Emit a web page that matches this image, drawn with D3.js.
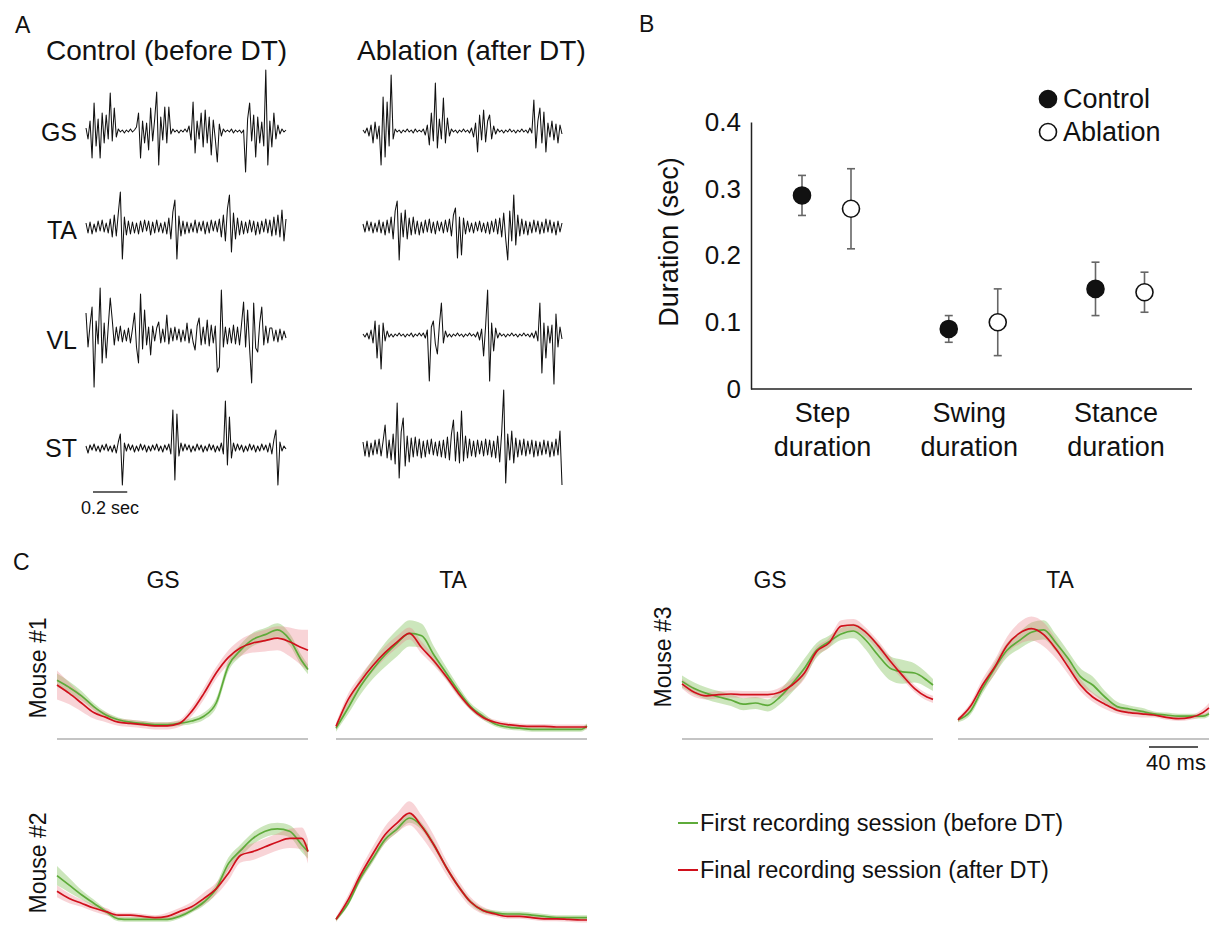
<!DOCTYPE html>
<html>
<head>
<meta charset="utf-8">
<script src="https://cdn.jsdelivr.net/npm/d3@7"></script>
<style>
  body { margin: 0; background: #fff; }
  text { font-family: "Liberation Sans", Arial, sans-serif; fill: #111; }
</style>
</head>
<body>
<div id="fig"></div>
<script>
// ---------- Panel A: raw EMG (100 samples per trace, ~11.8 ms apart, arbitrary units) ----------
const emgMuscles = ["GS", "TA", "VL", "ST"];
const emgSampleSec = 0.0118;

const gsControl = [
  3, -8, 10, -27, 28, -15, 12, -27, 18, -12, 16, -8, 38, -10, 23, -6,
  2, -1, 1, -2, 1, -1, 2, -1, 1,
  4, 18, -27, 10, -12, 8, -19, 23, -10, 12, 39, -34, 14, -9, 24, -12, 24,
  -3, 2, -1, 1, -2, 1, -1, 2, -1,
  5, -9, 29, -22, 10, -8, 18, -16, 21, -12, 14, -24, 11, -8, -31, 7, -5,
  2, -1, 1, -1, 2, -2, 1, -1, 1, -2, 1,
  -41, 12, 28, -10, 16, -26, 14, -12, 9, -15, 61, -34, 10, -16, 18, -8, 6,
  -3, 2, -1, 1
];
const gsAblation = [
  1, -2, 3, -5, 6, -12, 9, -8, 5, -34, 34, -26, 29, -15, 56,
  -8, 2, -1, 1, -2, 1, -1, 2, -1, 1, -2, 2, -1, 1, -1, 2,
  -4, 6, -14, 18, -10, 48, -17, 12, -8, 33, -12, 13, -5,
  2, -1, 1, -2, 1, -1, 2, -1, 1, -2, 3,
  -6, 8, -21, 16, -9, 21, -11, 10, 16, -8, 5, -3,
  2, -1, 1, -2, 1, -1, 2, -1, 1, -2, 1, -1, 2, -1, 1, -2, 3, -2,
  31, -17, 10, 23, -12, 19, -21, 8, -6, 10, -9, 7, -12, 6, -3
];
const taControl = [
  4, -6, 5, -7, 3, -5, 6, -4, 7, -5,
  4, -6, 8, -10, 12, -9, 14, 35, -32, 10,
  -8, 6, -7, 5, -6, 4, -7, 6, -5, 7,
  -4, 6, -8, 5, -6, 7, -5, 4, -6, 5,
  -7, 9, -12, 15, 27, -32, 11, -9, 6, -7,
  5, -6, 4, -5, 7, -6, 5, -4, 6, -7,
  5, -6, 7, -4, 6, -5, 8, -10, 12, -14,
  18, 32, -25, 14, -12, 9, -8, 6, -7, 5,
  -6, 7, -5, 6, -8, 5, -7, 6, -5, 8,
  -6, 7, -9, 10, -8, 12, -10, 17, -14, 8
];
const taAblation = [
  3, -5, 6, -4, 5, -6, 4, -5, 7, -6,
  5, -8, 7, -6, 10, -12, 16, 26, -33, 14,
  -10, 17, -12, 9, -8, 10, -7, 6, -8, 5,
  -6, 7, -5, 8, -6, 5, -7, 6, -4, 5,
  -6, 7, -5, 8, -9, 12, 19, -31, 10, -28,
  9, -7, 6, -5, 4, -6, 5, -4, 6, -5,
  4, -6, 5, -7, 6, -5, 8, -7, 9, -10,
  14, -12, -33, 16, -14, 32, -18, 12, -9, 8,
  -7, 6, -8, 5, -6, 7, -5, 6, -7, 5,
  -6, 8, -5, 7, -6, 5, -8, 6, -5, 4
];
const vlControl = [
  22, -12, 10, 28, -52, 14, -9, 47, -28, 12,
  -23, 8, 37, 15, -10, 8, -6, 9, -7, 5,
  -6, 7, -8, 6, 22, -12, -28, 41, -14, 25,
  -10, 8, -20, 9, -6, 7, 13, -8, 6, -7,
  20, -9, 7, -6, 8, -5, 6, -7, 5, -6,
  12, -8, 6, -7, -15, 9, 17, -10, 8, -9,
  15, -11, 10, -8, 9, -37, -32, 45, -12, 8,
  -9, 7, -8, 10, -9, 8, -10, 11, 33, -12,
  25, -14, -48, 32, -13, -17, 12, 28, -10, 9,
  -8, 7, 7, -6, 5, -7, 6, -5, 4, -3
];
const vlAblation = [
  1, -2, 2, -4, 5, -8, 14, -23, 10, -34,
  12, -6, 4, -2, 1, -2, 1, -1, 2, -1,
  1, -2, 1, -1, 2, -2, 1, -1, 2, -1,
  2, -3, 5, -46, 8, 14, -9, -19, 10, 32,
  -8, 4, -2, 1, -2, 1, -1, 2, -1, 1,
  -2, 1, -1, 2, -1, 1, -2, 3, -5, 6,
  -21, 9, 45, -46, 12, -16, 7, -3, 2, -1,
  1, -2, 1, -1, 2, -1, 1, -2, 1, -1,
  2, -1, 1, -2, 2, -3, 4, -6, 32, -38,
  12, -23, 9, -8, 10, -49, 21, -12, 8, -4
];
const stControl = [
  2, -5, 3, -2, 4, -3, 2, -4, 3, -2,
  4, -3, 2, -4, 3, -5, 6, 14, -37, 5,
  -3, 4, -2, 3, -4, 2, -3, 4, -2, 3,
  -4, 2, -3, 3, -2, 4, -3, 2, -4, 3,
  -2, 4, -6, 38, -32, 34, -8, 5, -3, 4,
  -2, 3, -4, 2, -3, 4, -2, 3, -4, 2,
  -3, 4, -2, 3, -4, 2, -3, 5, -6, 47,
  -17, 31, -10, 5, -3, 4, -2, 3, -4, 2,
  -3, 4, -2, 3, -4, 2, -3, 4, -2, 3,
  -4, 5, -6, 8, 18, -37, 6, -3, 2, -1
];
const stAblation = [
  6, -8, 7, -9, 5, -7, 8, -6, 9, -8,
  7, 23, -10, 8, -12, 14, -16, 45, -30, 16,
  30, -18, 12, -14, 10, -9, 11, -8, 9, -10,
  7, -9, 8, -6, 9, -7, 6, -8, 7, -9,
  8, -10, 11, -12, 14, 28, -13, 16, -15, 37,
  -13, 12, -10, 9, -8, 7, -9, 8, -6, 7,
  -8, 9, -7, 8, -9, 7, -10, 12, -14, 16,
  58, -35, 14, -12, 17, -15, 10, -9, 8, -7,
  9, -8, 7, -6, 8, -9, 7, -8, 6, -7,
  8, -6, 7, -9, 6, -8, 9, -7, 17, -37
];

// ---------- Panel B: gait phase durations (sec) ----------
const phaseNames = ["Step", "Swing", "Stance"];
const controlMean = [0.29, 0.09, 0.15];
const controlLow = [0.26, 0.07, 0.11];
const controlHigh = [0.32, 0.11, 0.19];
const ablationMean = [0.27, 0.10, 0.145];
const ablationLow = [0.21, 0.05, 0.115];
const ablationHigh = [0.33, 0.15, 0.175];
const durationTicks = [0, 0.1, 0.2, 0.3, 0.4];

// ---------- Panel C: averaged rectified EMG (normalised), time in ms ----------
const timeMs = [0, 10, 20, 30, 40, 50, 60, 70, 80, 90, 100, 110, 120, 130, 140, 150, 160, 170, 180, 190, 200, 205];

const gs1First = [.49, .43, .36, .27, .20, .16, .14, .13, .12, .12, .13, .15, .19, .30, .61, .74, .83, .87, .91, .83, .65, .58];
const gs1FirstSem = [.055, .05, .04, .03, .025, .02, .02, .02, .02, .02, .02, .025, .03, .04, .045, .05, .055, .055, .055, .05, .045, .04];
const gs1Final = [.45, .38, .30, .22, .18, .14, .13, .12, .11, .11, .13, .23, .38, .55, .68, .76, .80, .82, .84, .81, .76, .74];
const gs1FinalSem = [.12, .09, .07, .05, .04, .03, .03, .03, .03, .03, .03, .04, .05, .05, .06, .07, .08, .09, .10, .12, .15, .17];

const ta1First = [.09, .26, .44, .58, .70, .80, .88, .86, .70, .55, .40, .27, .19, .125, .10, .09, .08, .08, .08, .08, .08, .11];
const ta1FirstSem = [.03, .05, .07, .08, .10, .11, .11, .10, .07, .05, .04, .03, .03, .02, .02, .02, .02, .02, .02, .02, .02, .02];
const ta1Final = [.105, .33, .48, .61, .72, .81, .88, .76, .65, .52, .38, .26, .18, .14, .12, .11, .105, .105, .10, .10, .10, .10];
const ta1FinalSem = [.03, .05, .05, .05, .05, .05, .05, .05, .04, .03, .03, .02, .02, .02, .02, .02, .02, .02, .02, .02, .02, .02];

const gs3First = [.48, .42, .38, .35, .325, .29, .30, .28, .35, .46, .59, .74, .81, .875, .90, .825, .70, .59, .56, .55, .49, .45];
const gs3FirstSem = [.05, .05, .05, .05, .05, .05, .05, .05, .06, .07, .08, .06, .05, .05, .06, .08, .10, .10, .10, .08, .06, .05];
const gs3Final = [.46, .39, .36, .37, .375, .37, .37, .37, .39, .45, .55, .73, .80, .94, .95, .89, .78, .65, .53, .42, .35, .33];
const gs3FinalSem = [.04, .04, .03, .03, .03, .03, .03, .03, .04, .05, .05, .04, .04, .05, .05, .04, .04, .04, .03, .03, .03, .03];

const ta3First = [.16, .23, .42, .59, .74, .82, .89, .91, .80, .67, .52, .45, .35, .27, .25, .23, .21, .20, .19, .19, .19, .21];
const ta3FirstSem = [.02, .03, .04, .05, .06, .07, .08, .08, .07, .06, .07, .07, .05, .04, .03, .03, .02, .02, .02, .02, .02, .02];
const ta3Final = [.16, .27, .45, .60, .78, .88, .92, .87, .75, .60, .45, .35, .29, .24, .22, .21, .20, .18, .17, .18, .22, .26];
const ta3FinalSem = [.02, .03, .05, .06, .07, .09, .10, .10, .08, .06, .05, .04, .04, .03, .03, .03, .02, .02, .02, .02, .03, .04];

const gs2First = [.47, .39, .31, .24, .17, .11, .105, .105, .105, .105, .13, .18, .25, .36, .57, .68, .78, .84, .86, .84, .725, .67];
const gs2FirstSem = [.08, .06, .04, .03, .02, .02, .02, .02, .02, .02, .02, .02, .03, .04, .05, .05, .05, .05, .05, .05, .06, .06];
const gs2Final = [.34, .28, .24, .20, .17, .14, .14, .13, .12, .13, .17, .21, .28, .36, .49, .64, .67, .71, .75, .78, .78, .67];
const gs2FinalSem = [.05, .04, .03, .03, .03, .02, .02, .02, .02, .03, .03, .04, .05, .05, .06, .06, .07, .07, .07, .08, .09, .10];

const ta2First = [.105, .24, .45, .61, .77, .86, .95, .88, .725, .54, .38, .25, .18, .16, .15, .15, .14, .13, .12, .12, .12, .12];
const ta2FirstSem = [.02, .02, .03, .03, .03, .03, .04, .03, .03, .02, .02, .02, .02, .02, .02, .02, .02, .02, .02, .02, .02, .02];
const ta2Final = [.105, .27, .475, .65, .81, .91, .99, .88, .725, .54, .38, .25, .18, .15, .13, .13, .12, .11, .11, .105, .10, .10];
const ta2FinalSem = [.02, .04, .05, .06, .07, .08, .10, .09, .08, .06, .05, .04, .03, .02, .02, .02, .02, .02, .02, .02, .02, .02];

// ---------- Setup ----------
const W = 1212, H = 928;
const svg = d3.select("#fig").append("svg")
  .attr("width", W)
  .attr("height", H)
  .attr("viewBox", `0 0 ${W} ${H}`);

const panelLetter = (txt, x, y) => svg.append("text")
  .attr("x", x).attr("y", y)
  .attr("font-size", 23)
  .text(txt);

// ===== Panel A =====
panelLetter("A", 15, 33);

svg.append("text").attr("x", 46).attr("y", 60).attr("font-size", 28).text("Control (before DT)");
svg.append("text").attr("x", 357).attr("y", 60).attr("font-size", 28).text("Ablation (after DT)");

const emgRowsData = [
  { name: "GS", base: 131, label: 132, control: gsControl, ablation: gsAblation },
  { name: "TA", base: 227, label: 230, control: taControl, ablation: taAblation },
  { name: "VL", base: 335, label: 340, control: vlControl, ablation: vlAblation },
  { name: "ST", base: 448, label: 448, control: stControl, ablation: stAblation }
];

const emgDur = (gsControl.length - 1) * emgSampleSec;
const xCtrl = d3.scaleLinear().domain([0, emgDur]).range([86, 286]);
const xAbl = d3.scaleLinear().domain([0, emgDur]).range([363, 562]);

emgRowsData.forEach(row => {
  const y = d3.scaleLinear().domain([-60, 60]).range([row.base + 60, row.base - 60]);

  svg.append("text")
    .attr("x", 77).attr("y", row.label + 9)
    .attr("text-anchor", "end")
    .attr("font-size", 25)
    .text(row.name);

  [[row.control, xCtrl], [row.ablation, xAbl]].forEach(([vals, x]) => {
    const line = d3.line()
      .x((d, i) => x(i * emgSampleSec))
      .y(d => y(d));
    svg.append("path")
      .datum(vals)
      .attr("d", line)
      .attr("fill", "none")
      .attr("stroke", "#111")
      .attr("stroke-width", 1.05)
      .attr("stroke-linejoin", "round");
  });
});

// scale bar 0.2 sec
svg.append("line")
  .attr("x1", xCtrl(0) + 7).attr("x2", xCtrl(0.2) + 7)
  .attr("y1", 492).attr("y2", 492)
  .attr("stroke", "#333").attr("stroke-width", 1.3);
svg.append("text")
  .attr("x", 110).attr("y", 514)
  .attr("text-anchor", "middle")
  .attr("font-size", 18)
  .text("0.2 sec");

// ===== Panel B =====
panelLetter("B", 639, 32);

const yDur = d3.scaleLinear().domain([0, 0.4]).range([389, 122]);
const xPhase = d3.scalePoint().domain(phaseNames).range([826.5, 1120]);
const offset = 24.5;

svg.append("g")
  .attr("transform", "translate(751,0)")
  .call(d3.axisLeft(yDur).tickValues(durationTicks).tickSize(0).tickPadding(10)
    .tickFormat(d => d === 0 ? "0" : d3.format(".1f")(d)))
  .call(g => g.select(".domain").attr("stroke", "#222").attr("stroke-width", 1.5))
  .call(g => g.selectAll("text").attr("font-size", 26).attr("fill", "#111")
    .style("font-family", "'Liberation Sans', Arial, sans-serif"));

svg.append("line")
  .attr("x1", 751).attr("x2", 1192)
  .attr("y1", yDur(0)).attr("y2", yDur(0))
  .attr("stroke", "#222").attr("stroke-width", 1.5);

svg.append("text")
  .attr("transform", `translate(669,242) rotate(-90)`)
  .attr("text-anchor", "middle")
  .attr("dominant-baseline", "central")
  .attr("font-size", 27)
  .text("Duration (sec)");

phaseNames.forEach(p => {
  const t = svg.append("text")
    .attr("text-anchor", "middle")
    .attr("font-size", 27);
  t.append("tspan").attr("x", xPhase(p) - 4).attr("y", 422).text(p);
  t.append("tspan").attr("x", xPhase(p) - 4).attr("y", 456).text("duration");
});

const groupsB = [
  { mean: controlMean, lo: controlLow, hi: controlHigh, dx: -offset, fill: "#111" },
  { mean: ablationMean, lo: ablationLow, hi: ablationHigh, dx: offset, fill: "#fff" }
];

groupsB.forEach(g => {
  phaseNames.forEach((p, i) => {
    const cx = xPhase(p) + g.dx;
    svg.append("line")
      .attr("x1", cx).attr("x2", cx)
      .attr("y1", yDur(g.lo[i])).attr("y2", yDur(g.hi[i]))
      .attr("stroke", "#666").attr("stroke-width", 1.6);
    [g.lo[i], g.hi[i]].forEach(v => {
      svg.append("line")
        .attr("x1", cx - 4).attr("x2", cx + 4)
        .attr("y1", yDur(v)).attr("y2", yDur(v))
        .attr("stroke", "#666").attr("stroke-width", 1.6);
    });
    svg.append("circle")
      .attr("cx", cx).attr("cy", yDur(g.mean[i]))
      .attr("r", 8.5)
      .attr("fill", g.fill)
      .attr("stroke", "#111").attr("stroke-width", 1.6);
  });
});

// legend B
[["Control", "#111", 99], ["Ablation", "#fff", 132]].forEach(([name, fill, y]) => {
  svg.append("circle").attr("cx", 1048).attr("cy", y).attr("r", 8.5)
    .attr("fill", fill).attr("stroke", "#111").attr("stroke-width", 1.6);
  svg.append("text").attr("x", 1063).attr("y", y + 9).attr("font-size", 27).text(name);
});

// ===== Panel C =====
panelLetter("C", 13, 570);

const greenLine = "#5eab3a", redLine = "#d0101c";
const greenBand = "rgba(120,190,80,0.38)", redBand = "rgba(232,120,130,0.32)";

const cPanels = [
  { x0: 57, base: 739, first: gs1First, firstSem: gs1FirstSem, fin: gs1Final, finSem: gs1FinalSem, title: "GS", titleX: 163 },
  { x0: 336, base: 739, first: ta1First, firstSem: ta1FirstSem, fin: ta1Final, finSem: ta1FinalSem, title: "TA", titleX: 453 },
  { x0: 682, base: 739, first: gs3First, firstSem: gs3FirstSem, fin: gs3Final, finSem: gs3FinalSem, title: "GS", titleX: 770 },
  { x0: 958, base: 739, first: ta3First, firstSem: ta3FirstSem, fin: ta3Final, finSem: ta3FinalSem, title: "TA", titleX: 1060 },
  { x0: 57, base: 932, first: gs2First, firstSem: gs2FirstSem, fin: gs2Final, finSem: gs2FinalSem },
  { x0: 336, base: 932, first: ta2First, firstSem: ta2FirstSem, fin: ta2Final, finSem: ta2FinalSem }
];

const panelW = 251;
let lastX = null;

cPanels.forEach(pn => {
  const x = d3.scaleLinear().domain([0, 205]).range([pn.x0, pn.x0 + panelW]);
  const y = d3.scaleLinear().domain([0, 1]).range([pn.base, pn.base - 120]);
  lastX = pn.title === "TA" && pn.x0 > 900 ? x : lastX;

  svg.append("line")
    .attr("x1", pn.x0).attr("x2", pn.x0 + panelW)
    .attr("y1", pn.base).attr("y2", pn.base)
    .attr("stroke", "#c4c4c4").attr("stroke-width", 2);

  const band = (m, s) => d3.area()
    .x((d, i) => x(timeMs[i]))
    .y0((d, i) => y(m[i] - s[i]))
    .y1((d, i) => y(m[i] + s[i]))
    .curve(d3.curveMonotoneX)(m);
  const trace = m => d3.line()
    .x((d, i) => x(timeMs[i]))
    .y(d => y(d))
    .curve(d3.curveMonotoneX)(m);

  svg.append("path").attr("d", band(pn.first, pn.firstSem)).attr("fill", greenBand);
  svg.append("path").attr("d", band(pn.fin, pn.finSem)).attr("fill", redBand);
  svg.append("path").attr("d", trace(pn.first)).attr("fill", "none")
    .attr("stroke", greenLine).attr("stroke-width", 1.7);
  svg.append("path").attr("d", trace(pn.fin)).attr("fill", "none")
    .attr("stroke", redLine).attr("stroke-width", 1.7);

  if (pn.title) {
    svg.append("text")
      .attr("x", pn.titleX).attr("y", 588)
      .attr("text-anchor", "middle")
      .attr("font-size", 23)
      .text(pn.title);
  }
});

[["Mouse #1", 38, 668], ["Mouse #3", 663, 657], ["Mouse #2", 38, 863]].forEach(([t, cx, cy]) => {
  svg.append("text")
    .attr("transform", `translate(${cx},${cy}) rotate(-90)`)
    .attr("text-anchor", "middle")
    .attr("dominant-baseline", "central")
    .attr("font-size", 23)
    .text(t);
});

// 40 ms scale bar
svg.append("line")
  .attr("x1", lastX(156)).attr("x2", lastX(196))
  .attr("y1", 747).attr("y2", 747)
  .attr("stroke", "#222").attr("stroke-width", 1.6);
svg.append("text")
  .attr("x", 1176).attr("y", 770)
  .attr("text-anchor", "middle")
  .attr("font-size", 22)
  .text("40 ms");

// legend C
[["First recording session (before DT)", greenLine, 823], ["Final recording session (after DT)", redLine, 870]].forEach(([t, c, y]) => {
  svg.append("line").attr("x1", 678).attr("x2", 698).attr("y1", y).attr("y2", y)
    .attr("stroke", c).attr("stroke-width", 2);
  svg.append("text").attr("x", 700).attr("y", y + 8).attr("font-size", 23.5).text(t);
});
</script>
</body>
</html>
